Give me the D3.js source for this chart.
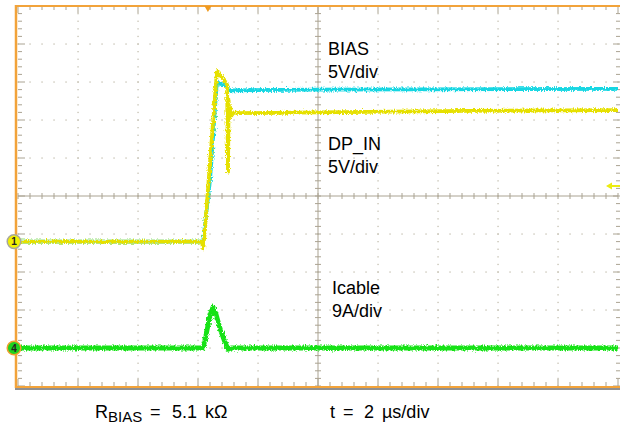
<!DOCTYPE html>
<html>
<head>
<meta charset="utf-8">
<script src="https://cdn.jsdelivr.net/npm/d3@7"></script>
<style>
body { margin: 0; background: #fff; }
svg text { font-family: Arial, "Liberation Sans", sans-serif; }
</style>
</head>
<body>
<div id="scope"></div>
<script>
// time axis: µs, 2 µs/div, 0 = screen centre
const biasT   = [-10, -3.83, -3.6, -3.37, -3.3, -3.03, -2.98, -2.9, 0, 10];
const biasV   = [0, 0, 8.1, 21.1, 20.8, 20.6, 19.8, 19.9, 20.0, 20.1];
const dpinT   = [-10, -3.87, -3.83, -3.8, -3.77, -3.37, -3.2, -3.03, -3.0, -2.98, -2.96, -2.93, -2.88, -2.8, -2.6, 0, 5, 10];
const dpinV   = [0, 0, -0.9, 0.2, 1.5, 22.4, 21.6, 20.6, 9.2, 18.6, 16.2, 17.7, 16.6, 17.0, 16.9, 17.0, 17.2, 17.3];
const icableT = [-10, -3.83, -3.73, -3.6, -3.5, -3.4, -3.27, -3.13, -3.0, -2.9, 10];
const icableA = [0, 0, 3.1, 7.8, 9.7, 8.0, 4.7, 1.9, -0.3, 0, 0];
const trigLevel = 7.3;   // V on DP_IN
const trigTime = -3.67;  // µs

const traceLabels = [
  {name: 'BIAS', scale: '5V/div', x: 328, y: 55},
  {name: 'DP_IN', scale: '5V/div', x: 328, y: 150},
  {name: 'Icable', scale: '9A/div', x: 332, y: 294}
];

{
const width = 620;
const height = 425;
const pL = 18, pR = 618, pT = 6, pB = 386;

let svg = d3.select('#scope')
    .append('svg')
    .attr('width', width)
    .attr('height', height);

let defs = svg.append('defs');
let filt = defs.append('filter')
    .attr('id', 'noise')
    .attr('filterUnits', 'userSpaceOnUse')
    .attr('x', 0).attr('y', 0).attr('width', width).attr('height', height);
filt.append('feTurbulence')
    .attr('type', 'fractalNoise')
    .attr('baseFrequency', '1.1 0.5')
    .attr('numOctaves', 2)
    .attr('seed', 4)
    .attr('result', 'n');
filt.append('feDisplacementMap')
    .attr('in', 'SourceGraphic')
    .attr('in2', 'n')
    .attr('scale', 5)
    .attr('xChannelSelector', 'R')
    .attr('yChannelSelector', 'G');

let x = d3.scaleLinear().domain([-10, 10]).range([pL, pR]);
let yDiv = d3.scaleLinear().domain([-5, 5]).range([pB, pT]);

// per channel: units per division and ground offset in divisions
function chanScale(perDiv, offset) {
  return d3.scaleLinear()
    .domain([(-5 - offset) * perDiv, (5 - offset) * perDiv])
    .range([pB, pT]);
}
let yBias = chanScale(5, -1.2);
let yDpin = chanScale(5, -1.2);
let yIcab = chanScale(9, -4);

// grid
const gridCol = '#c4bfb0';
const axisCol = '#aaa392';
let grid = svg.append('g');
let majX = d3.range(-10, 10.001, 2);
let majY = d3.range(-5, 5.001, 1);
let minX = d3.range(-10, 10.001, 0.4);
let minY = d3.range(-5, 5.001, 0.2);

// dotted major lines
majX.filter(v => Math.abs(v) > 1e-6 && v > -10 && v < 10).forEach(v => {
  grid.selectAll(null).data(minY).enter().append('rect')
    .attr('x', x(v) - 0.6).attr('y', d => yDiv(d) - 0.6)
    .attr('width', 1.3).attr('height', 1.3)
    .attr('fill', gridCol);
});
majY.filter(v => Math.abs(v) > 1e-6 && v > -5 && v < 5).forEach(v => {
  grid.selectAll(null).data(minX).enter().append('rect')
    .attr('x', d => x(d) - 0.6).attr('y', yDiv(v) - 0.6)
    .attr('width', 1.3).attr('height', 1.3)
    .attr('fill', gridCol);
});

// centre cross
grid.append('line').attr('x1', x(0)).attr('x2', x(0)).attr('y1', pT).attr('y2', pB)
    .attr('stroke', axisCol).attr('stroke-width', 1);
grid.append('line').attr('x1', pL).attr('x2', pR).attr('y1', yDiv(0)).attr('y2', yDiv(0))
    .attr('stroke', axisCol).attr('stroke-width', 1);
grid.selectAll(null).data(minX).enter().append('line')
    .attr('x1', d => x(d)).attr('x2', d => x(d))
    .attr('y1', yDiv(0) - 3).attr('y2', yDiv(0) + 3)
    .attr('stroke', axisCol);
grid.selectAll(null).data(minY).enter().append('line')
    .attr('y1', d => yDiv(d)).attr('y2', d => yDiv(d))
    .attr('x1', x(0) - 3).attr('x2', x(0) + 3)
    .attr('stroke', axisCol);

// edge ticks
let isMaj = (d, step) => Math.abs(d / step - Math.round(d / step)) < 1e-6;
grid.selectAll(null).data(minX).enter().append('line')
    .attr('x1', d => x(d)).attr('x2', d => x(d))
    .attr('y1', pT).attr('y2', d => pT + (isMaj(d, 2) ? 7 : 4))
    .attr('stroke', axisCol);
grid.selectAll(null).data(minX).enter().append('line')
    .attr('x1', d => x(d)).attr('x2', d => x(d))
    .attr('y1', pB).attr('y2', d => pB - (isMaj(d, 2) ? 7 : 4))
    .attr('stroke', axisCol);
grid.selectAll(null).data(minY).enter().append('line')
    .attr('y1', d => yDiv(d)).attr('y2', d => yDiv(d))
    .attr('x1', pL).attr('x2', d => pL + (isMaj(d, 1) ? 7 : 4))
    .attr('stroke', axisCol);
grid.selectAll(null).data(minY).enter().append('line')
    .attr('y1', d => yDiv(d)).attr('y2', d => yDiv(d))
    .attr('x1', pR + 2).attr('x2', d => pR + 2 - (isMaj(d, 1) ? 7 : 4))
    .attr('stroke', axisCol);

// traces
function drawTrace(ts, vs, yScale, color, w) {
  let line = d3.line().x(d => x(d[0])).y(d => yScale(d[1]));
  svg.append('path')
    .datum(d3.zip(ts, vs))
    .attr('d', line)
    .attr('fill', 'none')
    .attr('stroke', color)
    .attr('stroke-width', w)
    .attr('stroke-linejoin', 'round')
    .attr('filter', 'url(#noise)');
}
drawTrace(biasT, biasV, yBias, '#12d6e2', 3.8);
drawTrace(dpinT, dpinV, yDpin, '#e6e000', 3.8);
drawTrace(icableT, icableA, yIcab, '#14e214', 4.8);

// frame
const orange = '#f2a33a';
svg.append('line').attr('x1', 15).attr('x2', width).attr('y1', pT).attr('y2', pT)
    .attr('stroke', orange).attr('stroke-width', 2);
svg.append('line').attr('x1', 16).attr('x2', 16).attr('y1', pT - 1).attr('y2', pB + 2)
    .attr('stroke', orange).attr('stroke-width', 2.5);
svg.append('line').attr('x1', 15).attr('x2', width).attr('y1', pB + 1).attr('y2', pB + 1)
    .attr('stroke', orange).attr('stroke-width', 2);
svg.append('line').attr('x1', 15).attr('x2', width).attr('y1', pB + 3).attr('y2', pB + 3)
    .attr('stroke', '#222').attr('stroke-width', 1.2);

// trigger position and level markers
let trigX = x(trigTime);
svg.append('path')
    .attr('d', `M${trigX - 3.5},${pT} L${trigX + 3.5},${pT} L${trigX},${pT + 6}Z`)
    .attr('fill', '#f09a1e');
let trigY = yDpin(trigLevel);
svg.append('path')
    .attr('d', `M${pR - 12},${trigY} L${pR - 6},${trigY - 3.5} L${pR - 6},${trigY - 1} L${width},${trigY - 1} L${width},${trigY + 1} L${pR - 6},${trigY + 1} L${pR - 6},${trigY + 3.5}Z`)
    .attr('fill', '#ecec10');

// channel ground markers
function marker(cy, fill, ring, txt) {
  svg.append('circle').attr('cx', 14).attr('cy', cy).attr('r', 6.8)
    .attr('fill', fill).attr('stroke', ring).attr('stroke-width', 1.5);
  svg.append('text').attr('x', 14).attr('y', cy + 3.5)
    .attr('text-anchor', 'middle').attr('font-size', 10).attr('font-weight', 'bold')
    .attr('fill', '#222').text(txt);
}
marker(yDpin(0), '#f2f000', '#a8a89a', '1');
marker(yIcab(0), '#1ed21e', '#f0a030', '4');

// trace labels
let lab = svg.selectAll('.lab').data(traceLabels).enter().append('g');
lab.append('text').attr('x', d => d.x).attr('y', d => d.y)
    .attr('font-size', 18).attr('fill', '#000').text(d => d.name);
lab.append('text').attr('x', d => d.x).attr('y', d => d.y + 23)
    .attr('font-size', 18).attr('fill', '#000').text(d => d.scale);

// caption
let cap = svg.append('text').attr('y', 418).attr('font-size', 18).attr('fill', '#000');
cap.append('tspan').attr('x', 95).text('R');
cap.append('tspan').attr('x', 108).attr('dy', 4).attr('font-size', 15).text('BIAS');
cap.append('tspan').attr('x', 150).attr('dy', -4).text('=');
cap.append('tspan').attr('x', 172).text('5.1');
cap.append('tspan').attr('x', 205).text('kΩ');

let cap2 = svg.append('text').attr('y', 418).attr('font-size', 18).attr('fill', '#000');
cap2.append('tspan').attr('x', 330).text('t');
cap2.append('tspan').attr('x', 343).text('=');
cap2.append('tspan').attr('x', 364).text('2');
cap2.append('tspan').attr('x', 382).text('µs/div');
}
</script>
</body>
</html>
